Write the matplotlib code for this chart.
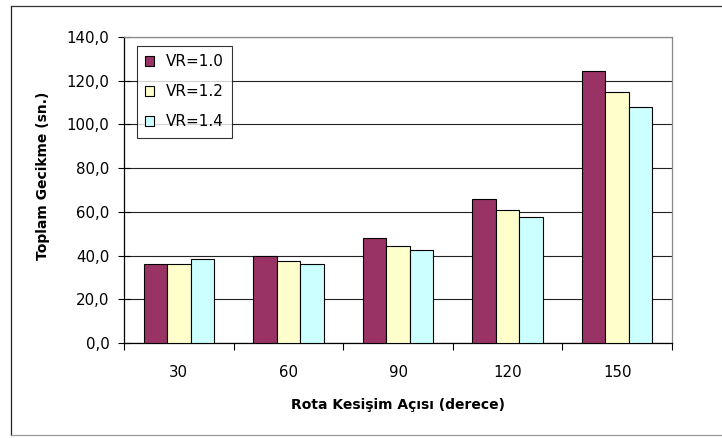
import matplotlib
matplotlib.use("Agg")
import matplotlib.pyplot as plt
from matplotlib.lines import Line2D
import numpy as np

plt.rcParams['font.family'] = ['DejaVu Sans']

categories = ["30", "60", "90", "120", "150"]
series_names = ["VR=1.0", "VR=1.2", "VR=1.4"]
vr10 = [36.2, 39.9, 48.1, 65.8, 124.5]
vr12 = [36.1, 37.6, 44.6, 60.9, 114.8]
vr14 = [38.4, 36.2, 42.5, 57.5, 107.9]
colors = ["#993366", "#FFFFCC", "#CCFFFF"]
yticks = [0, 20, 40, 60, 80, 100, 120, 140]

W, H = 722, 438
fig = plt.figure(figsize=(W / 100, H / 100), dpi=100)
ax = fig.add_axes([124 / W, (H - 343) / H, (672 - 124) / W, (343 - 37) / H])

# outer chart frame
fig.add_artist(Line2D([11 / W, 11 / W], [(H - 6) / H, (H - 435) / H], transform=fig.transFigure, color="#222222", lw=0.9))
fig.add_artist(Line2D([11 / W, 1.0], [(H - 6) / H, (H - 6) / H], transform=fig.transFigure, color="#333333", lw=0.9))
fig.add_artist(Line2D([11 / W, 1.0], [(H - 435) / H, (H - 435) / H], transform=fig.transFigure, color="#999999", lw=0.9))

x = np.arange(len(categories))
w = 0.214
for j, (vals, c, name) in enumerate(zip([vr10, vr12, vr14], colors, series_names)):
    ax.bar(x + (j - 1) * w, vals, width=w, color=c, edgecolor="black", linewidth=0.8, label=name, zorder=3)

ax.set_xlim(-0.5, len(categories) - 0.5)
ax.set_ylim(0, 140)
ax.set_yticks(yticks)
ax.set_yticklabels([f"{v:.1f}".replace(".", ",") for v in yticks], fontsize=10.8)
ax.yaxis.grid(True, color="#222222", linewidth=0.8, zorder=0)
ax.set_axisbelow(True)

# x ticks at category boundaries, labels at centers
ax.set_xticks(np.arange(-0.5, len(categories) + 0.5, 1.0))
ax.set_xticklabels([])
ax.set_xticks(x, minor=True)
ax.set_xticklabels(categories, minor=True, fontsize=10.8)
ax.tick_params(axis="x", which="minor", length=0, pad=16)
ax.tick_params(axis="x", which="major", length=5, width=0.8, direction="out")
ax.tick_params(axis="y", length=9, width=0.8, direction="inout", pad=6)

for s in ["top", "right"]:
    ax.spines[s].set_color("#888888")
    ax.spines[s].set_linewidth(0.9)
for s in ["left", "bottom"]:
    ax.spines[s].set_color("black")
    ax.spines[s].set_linewidth(0.9)

ax.set_xlabel("Rota Kesişim Açısı (derece)", fontsize=10, fontweight="bold", labelpad=13)
ax.set_ylabel("Toplam Gecikme (sn.)", fontsize=10, fontweight="bold")
ax.yaxis.set_label_coords(-0.135, (343 - 176) / 306)

leg = ax.legend(loc="upper left", bbox_to_anchor=((137 - 124) / 548, (343 - 46) / 306),
                fontsize=11, frameon=True, fancybox=False, edgecolor="black",
                handlelength=0.59, handleheight=0.59, handletextpad=0.75,
                labelspacing=0.98, borderpad=0.55, borderaxespad=0)
leg.get_frame().set_linewidth(0.8)
leg.set_zorder(5)

fig.savefig("out.png", dpi=100, facecolor="white")
